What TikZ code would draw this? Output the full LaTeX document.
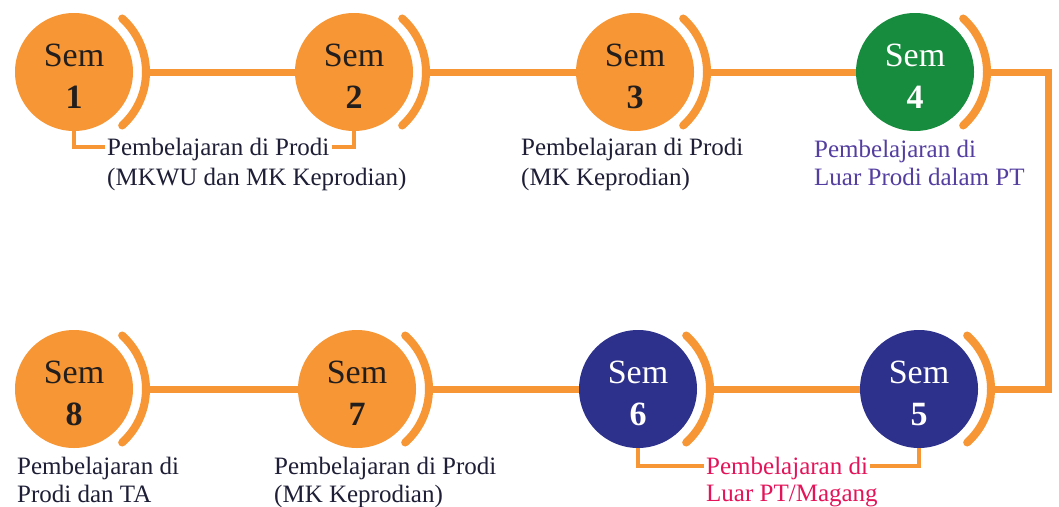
\documentclass[tikz,border=0pt]{standalone}
\usepackage{fontspec}
\setmainfont{Liberation Serif}
\definecolor{semorange}{RGB}{246,150,52}
\definecolor{semgreen}{RGB}{24,140,62}
\definecolor{semnavy}{RGB}{46,49,140}
\definecolor{labdark}{RGB}{30,30,55}
\definecolor{labpurple}{RGB}{84,62,160}
\definecolor{labpink}{RGB}{228,20,90}
\definecolor{numdark}{RGB}{35,30,30}
\tikzset{
  semtxt/.style={align=center, inner sep=0pt, yshift=-4pt,
    font=\fontsize{34}{42}\selectfont},
  sem/.style={circle, minimum size=118pt, inner sep=0pt},
  semo/.style={sem, fill=semorange, label={[semtxt, text=numdark]center:#1}},
  semg/.style={sem, fill=semgreen, label={[semtxt, text=white]center:#1}},
  semn/.style={sem, fill=semnavy, label={[semtxt, text=white]center:#1}},
  bow/.style={draw=semorange, line width=8pt, line cap=round},
  mainline/.style={draw=semorange, line width=7pt},
  brk/.style={draw=semorange, line width=4.5pt},
  lab/.style={anchor=west, inner sep=2pt, text height=22pt, text depth=6pt,
    font=\fontsize{25}{30}\selectfont, text=labdark},
}
\begin{document}
\begin{tikzpicture}[x=1pt,y=-1pt]
\path[use as bounding box, fill=white] (0,0) rectangle (1059,506);

% circles
\node[semo={Sem\\\textbf{1}}] (s1) at (74,72) {};
\node[semo={Sem\\\textbf{2}}] (s2) at (354,72) {};
\node[semo={Sem\\\textbf{3}}] (s3) at (635,72) {};
\node[semg={Sem\\\textbf{4}}] (s4) at (915,72) {};
\node[semn={Sem\\\textbf{5}}] (s5) at (919,389) {};
\node[semn={Sem\\\textbf{6}}] (s6) at (638,389) {};
\node[semo={Sem\\\textbf{7}}] (s7) at (357,389) {};
\node[semo={Sem\\\textbf{8}}] (s8) at (74,389) {};

% bows and their outer points
\foreach \n in {1,...,8}{
  \draw[bow] (s\n.center) ++(-48:72pt) arc[start angle=-48, end angle=48, radius=72pt];
  \path (s\n.center) ++(72pt,0pt) coordinate (a\n);
}

% main connectors
\draw[mainline] (a1) -- (s2.west);
\draw[mainline] (a2) -- (s3.west);
\draw[mainline] (a3) -- (s4.west);
\coordinate (cR) at (1048,230);
\draw[mainline] (a4) -| (cR) |- (a5);
\draw[mainline] (s5.west) -- (a6);
\draw[mainline] (s6.west) -- (a7);
\draw[mainline] (s7.west) -- (a8);

% labels
\node[lab] (l12a) at (105,147) {Pembelajaran di Prodi};
\node[lab] (l12b) at (105,177) {(MKWU dan MK Keprodian)};
\node[lab] (l3a) at (519,147) {Pembelajaran di Prodi};
\node[lab] (l3b) at (519,177) {(MK Keprodian)};
\node[lab, text=labpurple] (l4a) at (812,149) {Pembelajaran di};
\node[lab, text=labpurple] (l4b) at (812,177) {Luar Prodi dalam PT};
\node[lab, text=labpink] (l56a) at (704,466) {Pembelajaran di};
\node[lab, text=labpink] (l56b) at (704,493) {Luar PT/Magang};
\node[lab] (l7a) at (272,466) {Pembelajaran di Prodi};
\node[lab] (l7b) at (272,494) {(MK Keprodian)};
\node[lab] (l8a) at (15,466) {Pembelajaran di};
\node[lab] (l8b) at (15,494) {Prodi dan TA};

% brackets
\draw[brk] (s1.south) |- (l12a.west);
\draw[brk] (l12a.east) -| (s2.south);
\draw[brk] (s6.south) |- (l56a.west);
\draw[brk] (l56a.east) -| (s5.south);
\end{tikzpicture}
\end{document}
